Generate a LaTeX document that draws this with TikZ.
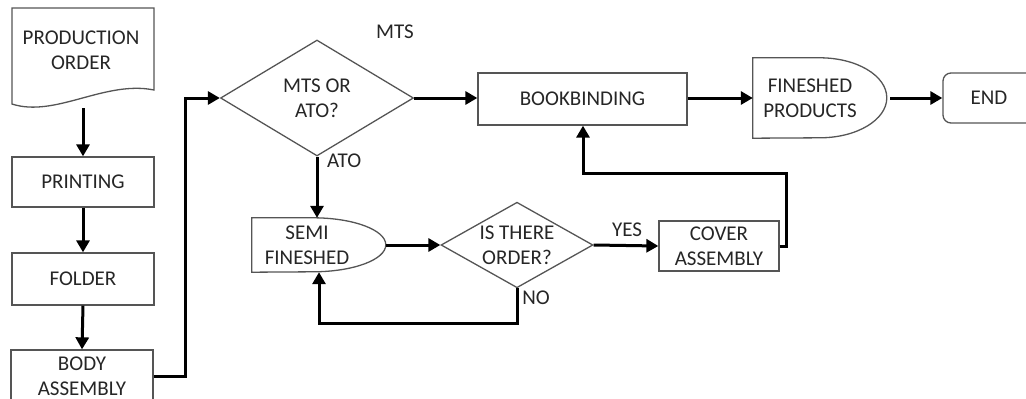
\documentclass[tikz,border=0pt]{standalone}
\usepackage{fontspec}
\setmainfont{Carlito}
\usetikzlibrary{arrows.meta,shapes.geometric}
\definecolor{txt}{HTML}{262626}
\definecolor{edge}{HTML}{555555}
\tikzset{
  base/.style={font=\fontsize{21}{25}\selectfont, text=txt, align=center, inner sep=0pt},
  procbox/.style={base, draw=edge, line width=1.3pt, rectangle, minimum width=#1},
  procbox/.default=142pt,
  shapeonly/.style={base, rectangle},
  decision/.style={base, draw=edge, line width=1.3pt, diamond, aspect=1.6},
  outline/.style={draw=edge, line width=1.3pt},
  flow/.style={line width=3pt, -{Triangle[length=12pt,width=13pt]}},
  tag/.style={base}
}
\begin{document}
\begin{tikzpicture}[x=1pt,y=-1pt]
\useasboundingbox (0,0) rectangle (1026,399);
\clip (0,0) rectangle (1026,399);

% left column
\node[shapeonly, minimum width=142pt, minimum height=100pt] (po) at (83,58) {};
\draw[outline] (12,8) -- (154,8) -- (154,90)
  .. controls (105,80) and (55,118) .. (12,104) -- cycle;
\node[base] (pot) at (81,50) {PRODUCTION\\ORDER};
\node[procbox, minimum height=50pt] (print) at (83,182) {PRINTING};
\node[procbox, minimum height=52pt] (fold) at (83,279) {FOLDER};
\node[procbox, minimum height=52pt] (body) at (82,376) {BODY\\ASSEMBLY};

% first decision
\node[decision, minimum width=193pt, minimum height=116pt] (d1) at (317,98) {MTS OR\\ATO?};
\node[tag] (mts) at (395,32) {MTS};
\node[tag, anchor=west] (ato) at (327,161) {ATO};

% top row
\node[procbox=209pt, minimum height=52pt] (book) at (582.5,99) {BOOKBINDING};
\node[shapeonly, minimum width=134pt, minimum height=80pt] (fin) at (820,98) {};
\draw[outline] (fin.north west) -- ++(67,0)
  arc[start angle=90, end angle=-90, x radius=67pt, y radius=40pt] -- (fin.south west) -- cycle;
\node[base] (fint) at (810,98) {FINESHED\\PRODUCTS};
\node[base, draw=edge, line width=1.3pt, rounded corners=8pt, minimum width=92pt, minimum height=50pt] (end) at (989,98) {END};

% lower row
\node[shapeonly, minimum width=134pt, minimum height=54pt] (semi) at (319,245) {};
\draw[outline] (semi.north west) -- ++(61,0)
  arc[start angle=90, end angle=-90, x radius=73pt, y radius=27pt] -- (semi.south west) -- cycle;
\node[base] (semit) at (307,245) {SEMI\\FINESHED};
\node[decision, minimum width=152pt, minimum height=80pt] (d2) at (517,245) {IS THERE\\ORDER?};
\node[tag] (yes) at (627,230) {YES};
\node[tag] (no) at (536,298) {NO};
\node[procbox=120pt, minimum height=50pt] (cover) at (719,246) {COVER\\ASSEMBLY};

% connectors
\draw[flow] (po.south) -- (print.north);
\draw[flow] (print.south) -- (fold.north);
\draw[flow] (fold.south) -- (body.north);
\draw[flow] (body.east) -- (185,376) |- (d1.west);
\draw[flow] (d1.east) -- (book.west |- d1.east);
\draw[flow] (book.east |- fin.west) -- (fin.west);
\draw[flow] ([xshift=3pt]fin.east) -- (end.west);
\draw[flow] (d1.south) -- (d1.south |- semi.north);
\draw[flow] (semi.east) -- (d2.west);
\draw[flow] (d2.east) -- (cover.west);
\draw[flow] (d2.south) -- (517,323) -| (semi.south);
\draw[flow] (cover.east) -- (786,246) |- (583,173) -- (book.south -| 583,0);
\end{tikzpicture}
\end{document}
